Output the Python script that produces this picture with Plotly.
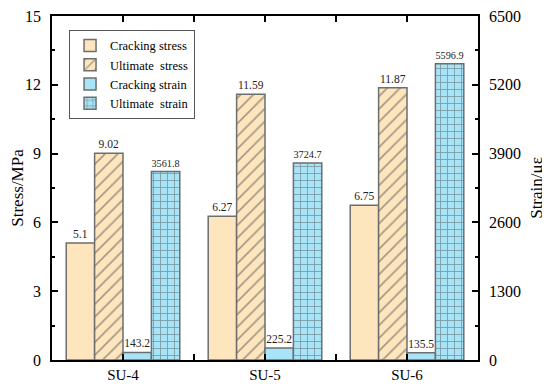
import plotly.graph_objects as go

categories = ["SU-4", "SU-5", "SU-6"]
cracking_stress = [5.1, 6.27, 6.75]
ultimate_stress = [9.02, 11.59, 11.87]
cracking_strain = [143.2, 225.2, 135.5]
ultimate_strain = [3561.8, 3724.7, 5596.9]

stress_ticks = [0, 3, 6, 9, 12, 15]
strain_ticks = [0, 1300, 2600, 3900, 5200, 6500]

beige = "#FDE5BE"
blue = "#A8E4F8"
edge = "#6e6e6e"
font = "Liberation Serif"
xpos = list(range(len(categories)))

fig = go.Figure()

def add(name, vals, color, axis, group, shape="", size=7, solidity=0.25):
    fig.add_trace(go.Bar(
        name=name, x=xpos, y=vals, yaxis=axis,
        offsetgroup=group, alignmentgroup="a",
        marker=dict(color=color, line=dict(color=edge, width=1.5),
                    pattern=dict(shape=shape, fgcolor="#4a4a4a", bgcolor=color,
                                 size=size, solidity=solidity, fillmode="overlay") if shape else None),
        text=[str(v) for v in vals], textposition="outside",
        textfont=dict(family=font, size=11.5, color="#222"),
        cliponaxis=False,
    ))

add("Cracking stress", cracking_stress, beige, "y", "1")
add("Ultimate  stress", ultimate_stress, beige, "y", "2", "/", 9, 0.18)
add("Cracking strain", cracking_strain, blue, "y2", "3")
add("Ultimate  strain", ultimate_strain, blue, "y2", "4", "+", 7, 0.22)

fig.update_layout(
    width=542, height=382,
    margin=dict(l=44, r=72, t=8, b=30),
    plot_bgcolor="white", paper_bgcolor="white",
    barmode="group", bargap=0.2, bargroupgap=0,
    font=dict(family=font, size=16, color="black"),
    showlegend=True,
    legend=dict(x=0.04, y=0.96, xanchor="left", yanchor="top",
                bgcolor="white", bordercolor="#555", borderwidth=1,
                font=dict(family=font, size=12.5), tracegroupgap=0),
    xaxis=dict(range=[-0.5, 2.5], tickvals=xpos, ticktext=categories, automargin=False,
               showline=True, linecolor="black", linewidth=1.5, mirror="ticks",
               ticks="inside", ticklen=6, tickcolor="black", tickwidth=1.5,
               tickfont=dict(size=15),
               minor=dict(dtick=0.5, ticks="inside", ticklen=6, tickcolor="black", tickwidth=1.5),
               showgrid=False, zeroline=False),
    yaxis=dict(range=[0, 15], tickvals=stress_ticks, automargin=False, ticklabelstandoff=6,
               ticklabeloverflow="allow",
               title=dict(text="Stress/MPa", font=dict(size=17), standoff=2),
               showline=True, linecolor="black", linewidth=1.5,
               ticks="inside", ticklen=6, tickcolor="black", tickwidth=1.5,
               minor=dict(tick0=1.5, dtick=3, ticks="inside", ticklen=3, tickcolor="black", tickwidth=1.5),
               showgrid=False, zeroline=False),
    yaxis2=dict(range=[0, 6500], tickvals=strain_ticks, overlaying="y", side="right",
                automargin=False, ticklabelstandoff=6, ticklabeloverflow="allow",
                title=dict(text="Strain/με", font=dict(size=17), standoff=10),
                showline=True, linecolor="black", linewidth=1.5,
                ticks="inside", ticklen=6, tickcolor="black", tickwidth=1.5,
                minor=dict(tick0=650, dtick=1300, ticks="inside", ticklen=3, tickcolor="black", tickwidth=1.5),
                showgrid=False, zeroline=False),
)

fig.write_html("out.html")
